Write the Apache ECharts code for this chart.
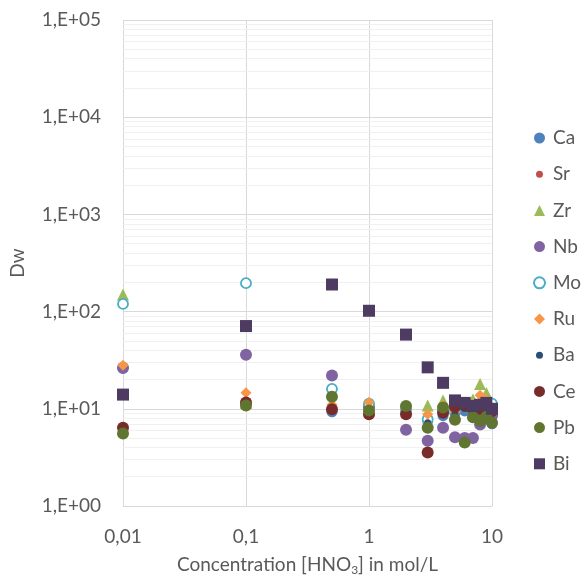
<html>
    <head>
        <meta charset="utf-8">
        <script src="https://cdn.jsdelivr.net/npm/echarts@6/dist/echarts.min.js"></script>
    </head>
    <body>
        <style>
            html, body, #main {
                width: 100%;
                height: 100%;
                margin: 0;
                background: #fff;
            }
        </style>
        <div id='main'></div>
        <script>
            // HNO3 concentration (mol/L)
            var conc = [0.01, 0.1, 0.5, 1, 2, 3, 4, 5, 6, 7, 8, 9, 10];

            // Dw values per element
            var Ca = [26, 11.2, 9.3, 10.5, 9.5, 7.5, 8.5, 9, 9.5, 9, 8.5, 9, 7.0];
            var Sr = [6.4, 11.5, 9.6, 9, 9, 8, 9, 9.5, 10, 9.5, 9.5, 10, 9];
            var Zr = [150, 11.5, 10.5, 10.5, 10.5, 10.8, 12.2, 12, 11.5, 12.5, 18, 14.5, 10.5];
            var Nb = [26.5, 36, 22, 10.5, 6.1, 4.7, 6.4, 5.1, 5.0, 5.0, 6.9, 8.0, 8.5];
            var Mo = [120, 196, 16, 11.3, 10, 7.8, 9.5, 9.8, 10.5, 10, 11, 11.5, 11.3];
            var Ru = [28, 14.6, 11, 11.7, 10, 8.8, 10.8, 9.2, 10.5, 11, 13.8, 12.5, 10];
            var Ba = [6, 11, 9.8, 9, 9, 7.2, 9, 9, 10, 9.5, 9.5, 9.5, 9];
            var Ce = [6.4, 11.6, 9.9, 8.8, 8.8, 3.55, 9.1, 10.5, 10.8, 10, 10, 10.5, 9.5];
            var Pb = [5.56, 10.8, 13.3, 9.6, 10.7, 6.4, 10.3, 7.7, 4.5, 8.2, 7.5, 8.3, 7.2];
            var Bi = [14, 71, 190, 102, 58, 26.7, 18.5, 12.2, 11.5, 10.7, 11, 11.5, 10];

            var names = ['Ca', 'Sr', 'Zr', 'Nb', 'Mo', 'Ru', 'Ba', 'Ce', 'Pb', 'Bi'];
            var values = [Ca, Sr, Zr, Nb, Mo, Ru, Ba, Ce, Pb, Bi];

            var styles = {
                Ca: {symbol: 'circle', size: 11, color: '#4f81bd'},
                Sr: {symbol: 'circle', size: 7, color: '#c0504d'},
                Zr: {symbol: 'triangle', size: 12, color: '#9bbb59'},
                Nb: {symbol: 'circle', size: 12, color: '#8064a2'},
                Mo: {symbol: 'circle', size: 10, color: '#fff', border: '#4bacc6'},
                Ru: {symbol: 'diamond', size: 11, color: '#f79646'},
                Ba: {symbol: 'circle', size: 7, color: '#2c4d75'},
                Ce: {symbol: 'circle', size: 12, color: '#772c2a'},
                Pb: {symbol: 'circle', size: 12, color: '#5f7530'},
                Bi: {symbol: 'rect', size: 12, color: '#4d3b62'}
            };

            var font = 'Lato';
            var textColor = '#595959';
            var fs = 19;

            // small dot icon for the legend (Sr, Ba use smaller markers)
            function smallDot(color) {
                var svg = '<svg xmlns="http://www.w3.org/2000/svg" width="22" height="22">' +
                    '<circle cx="11" cy="11" r="7" fill="' + color + '"/></svg>';
                return 'image://data:image/svg+xml;charset=utf-8,' + encodeURIComponent(svg);
            }

            var legendData = names.map(function (n) {
                var s = styles[n];
                if (s.size < 10) return {name: n, icon: smallDot(s.color)};
                return {name: n};
            });

            // faint log minor grid lines (2..9 in every decade)
            var minor = [];
            for (var d = 0; d < 5; d++) {
                for (var k = 2; k < 10; k++) {
                    minor.push({yAxis: k * Math.pow(10, d)});
                }
            }

            var series = [{
                type: 'line',
                data: [],
                silent: true,
                z: 0,
                markLine: {
                    silent: true,
                    z: 0,
                    symbol: 'none',
                    label: {show: false},
                    animation: false,
                    lineStyle: {color: '#f0f0f0', type: 'solid', width: 1},
                    data: minor
                }
            }];

            names.forEach(function (n, i) {
                var s = styles[n];
                series.push({
                    name: n,
                    type: 'scatter',
                    z: 3,
                    symbol: s.symbol,
                    symbolSize: s.size,
                    itemStyle: {
                        color: s.color,
                        borderColor: s.border || s.color,
                        borderWidth: s.border ? 1.8 : 0,
                        opacity: 1
                    },
                    data: conc.map(function (c, j) { return [c, values[i][j]]; })
                });
            });

            var chart = echarts.init(document.getElementById('main'));

            var option = {
                animation: false,
                textStyle: {fontFamily: font},
                grid: {left: 123, right: 89, top: 20, bottom: 74},
                legend: {
                    data: legendData,
                    orient: 'vertical',
                    left: 528,
                    top: 122,
                    itemWidth: 11,
                    itemHeight: 11,
                    itemGap: 14.2,
                    textStyle: {fontFamily: font, fontSize: fs, color: textColor, lineHeight: 22, padding: [0, 0, 0, 3]}
                },
                xAxis: {
                    type: 'log',
                    logBase: 10,
                    min: 0.01,
                    max: 10,
                    name: 'Concentration [HNO{s|3}] in mol/L',
                    nameLocation: 'middle',
                    nameGap: 48,
                    nameTextStyle: {
                        fontFamily: font, fontSize: fs, color: textColor, lineHeight: 22,
                        rich: {
                            s: {fontFamily: font, fontSize: 12, color: textColor, lineHeight: 12, verticalAlign: 'bottom'}
                        }
                    },
                    axisLine: {show: true, lineStyle: {color: '#d9d9d9'}},
                    axisTick: {show: false},
                    splitLine: {show: true, lineStyle: {color: '#d9d9d9'}},
                    axisLabel: {
                        fontFamily: font, fontSize: fs, color: textColor, margin: 21,
                        formatter: function (v) { return String(+v.toPrecision(3)).replace('.', ','); }
                    }
                },
                yAxis: {
                    type: 'log',
                    logBase: 10,
                    min: 1,
                    max: 100000,
                    name: 'Dw',
                    nameLocation: 'middle',
                    nameGap: 96,
                    nameTextStyle: {fontFamily: font, fontSize: fs, color: textColor},
                    axisLine: {show: false},
                    axisTick: {show: false},
                    splitLine: {show: true, lineStyle: {color: '#d9d9d9'}},
                    axisLabel: {
                        fontFamily: font, fontSize: fs, color: textColor, margin: 22,
                        formatter: function (v) {
                            var e = Math.round(Math.log10(v));
                            return '1,E+' + (e < 10 ? '0' : '') + e;
                        }
                    }
                },
                series: series
            };

            chart.setOption(option);

            window.onresize = function () {
                chart.resize();
            }
        </script>
    </body>
</html>
